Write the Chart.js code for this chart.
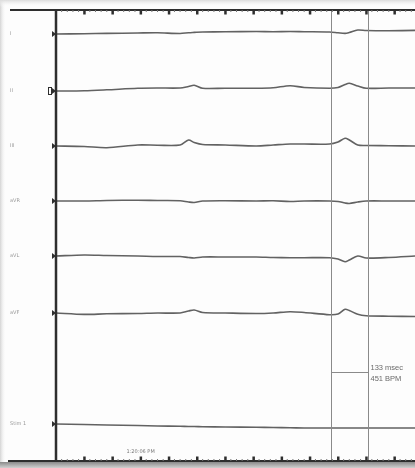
<!DOCTYPE html>
<html>
<head>
<meta charset="utf-8">
<script src="https://cdn.jsdelivr.net/npm/chart.js@4/dist/chart.umd.min.js"></script>
<style>
  html, body { margin: 0; padding: 0; background: #fff; }
  #wrap { width: 415px; height: 468px; }
</style>
</head>
<body>
<div id="wrap"><canvas id="ecg" width="415" height="468"></canvas></div>
<script>
// sample times (msec) shared by every lead
const times = [0, 100, 180, 290, 360, 440, 470, 490, 520, 600, 710, 770, 830, 880, 970, 1000, 1025, 1040, 1070, 1100, 1180, 1273];

// lead names and amplitudes (mV)
const leads = ["I", "II", "III", "aVR", "aVL", "aVF", "Stim 1"];
const leadI   = [0, .015, .03, .05, .06, .025, .065, .08, .10, .11, .125, .115, .125, .115, .10, .06, .03, .075, .20, .175, .165, .18];
const leadII  = [0, .015, .06, .135, .15, .15, .225, .285, .135, .14, .135, .16, .265, .175, .135, .175, .325, .385, .25, .135, .15, .15];
const leadIII = [0, -.025, -.085, .05, .04, .05, .30, .175, .075, .05, 0, .05, .10, .10, .10, .20, .385, .30, .05, .025, .015, 0];
const leadAVR = [0, 0, .025, .04, .025, .015, -.05, -.075, 0, .015, 0, .01, -.025, 0, 0, -.025, -.10, -.125, -.05, 0, 0, 0];
const leadAVL = [0, .05, .025, 0, -.025, -.025, -.075, -.10, -.05, -.05, -.05, -.075, -.085, -.085, -.085, -.15, -.285, -.20, 0, -.10, -.075, 0];
const leadAVF = [0, -.07, -.04, -.025, 0, 0, .10, .15, .025, 0, -.025, 0, .065, .025, -.085, -.05, .185, .125, -.065, -.135, -.16, -.175];
const stim1   = [0, -.025, -.05, -.075, -.10, -.115, -.125, -.125, -.135, -.15, -.165, -.175, -.185, -.20, -.20, -.20, -.20, -.20, -.20, -.20, -.20, -.20];
const series = [leadI, leadII, leadIII, leadAVR, leadAVL, leadAVF, stim1];

// calipers
const caliperStart = 975;
const caliperEnd = 1108;
const caliperText = ["133 msec", "451 BPM"];
const timeLabel = "1:20:06 PM";
const timeLabelAt = 300;

// layout: lane centres in trace units (1 unit = 1 mV on a 20 px/mV paper), top to bottom
const lanes = [1.2, 4.05, 6.8, 9.55, 12.3, 15.15, 20.7];
const yMax = 22.55;
const xMax = 1273;

const datasets = series.map((vals, i) => ({
  label: leads[i],
  data: times.map((t, j) => ({ x: t, y: lanes[i] - vals[j] })),
  borderColor: "#626262",
  borderWidth: 1.6,
  pointRadius: 0,
  tension: 0.3,
  fill: false
}));

const paper = {
  id: "paper",
  beforeDraw(chart) {
    const c = chart.ctx, W = chart.width, H = chart.height;
    c.save();
    c.fillStyle = "#fdfdfd";
    c.fillRect(0, 0, W, H);
    // page shadows
    let g = c.createLinearGradient(0, 0, 6, 0);
    g.addColorStop(0, "#d4d4d4"); g.addColorStop(1, "rgba(255,255,255,0)");
    c.fillStyle = g; c.fillRect(0, 0, 6, H);
    g = c.createLinearGradient(0, 0, 0, 7);
    g.addColorStop(0, "#dcdcdc"); g.addColorStop(1, "rgba(255,255,255,0)");
    c.fillStyle = g; c.fillRect(0, 0, W, 7);
    g = c.createLinearGradient(0, 462, 0, H);
    g.addColorStop(0, "#8a8a8a"); g.addColorStop(1, "#d0d0d0");
    c.fillStyle = g; c.fillRect(0, 462, W, H - 462);
    c.restore();
  },
  afterDatasetsDraw(chart) {
    const c = chart.ctx, a = chart.chartArea;
    const xs = chart.scales.x, ys = chart.scales.y;
    c.save();
    // caliper lines
    c.strokeStyle = "#8a8a8a";
    c.lineWidth = 1;
    const x1 = Math.round(xs.getPixelForValue(caliperStart)) + 0.5;
    const x2 = Math.round(xs.getPixelForValue(caliperEnd)) + 0.5;
    c.beginPath();
    c.moveTo(x1, a.top); c.lineTo(x1, a.bottom);
    c.moveTo(x2, a.top); c.lineTo(x2, a.bottom);
    const yc = Math.round(ys.getPixelForValue(18.1)) + 0.5;
    c.moveTo(x1, yc); c.lineTo(x2, yc);
    c.stroke();
    c.fillStyle = "#6a6a6a";
    c.font = "7.5px 'Liberation Sans', sans-serif";
    c.textBaseline = "middle";
    c.fillText(caliperText[0], x2 + 2, yc - 5);
    c.fillText(caliperText[1], x2 + 2, yc + 6);

    // frame
    c.strokeStyle = "#2e2e2e";
    c.lineWidth = 2;
    c.beginPath();
    c.moveTo(10, a.top); c.lineTo(a.right, a.top);
    c.moveTo(8, a.bottom); c.lineTo(a.right, a.bottom);
    c.stroke();
    c.lineWidth = 2.5;
    c.beginPath();
    c.moveTo(a.left, a.top); c.lineTo(a.left, a.bottom);
    c.stroke();

    // ticks every 20 ms, major every 100 ms
    c.fillStyle = "#2e2e2e";
    for (let t = 20; t <= xMax; t += 20) {
      const px = xs.getPixelForValue(t);
      if (t % 100 === 0) {
        c.fillRect(px - 1, a.top, 2.5, 4.5);
        c.fillRect(px - 1, a.bottom - 4.5, 2.5, 4.5);
      } else {
        c.fillStyle = "#777";
        c.fillRect(px - 0.5, a.top, 1, 2);
        c.fillRect(px - 0.5, a.bottom - 2, 1, 2);
        c.fillStyle = "#2e2e2e";
      }
    }

    // lane markers and labels
    c.font = "5px 'DejaVu Sans', sans-serif";
    leads.forEach((name, i) => {
      const py = ys.getPixelForValue(lanes[i]);
      c.fillStyle = "#2e2e2e";
      c.beginPath();
      c.moveTo(a.left - 4, py - 3); c.lineTo(a.left, py); c.lineTo(a.left - 4, py + 3);
      c.closePath(); c.fill();
      if (i === 1) {
        c.strokeStyle = "#2e2e2e"; c.lineWidth = 1;
        c.strokeRect(a.left - 7.5, py - 3.5, 3, 7);
      }
      c.fillStyle = "#999";
      c.fillText(name, 10, py);
    });

    // time stamp
    c.fillStyle = "#777";
    c.textAlign = "center";
    c.fillText(timeLabel, xs.getPixelForValue(timeLabelAt), a.bottom - 9);
    c.restore();
  }
};

new Chart(document.getElementById("ecg"), {
  type: "line",
  data: { datasets },
  options: {
    responsive: false,
    animation: false,
    layout: { padding: { left: 56, top: 10, right: 0, bottom: 7 } },
    plugins: { legend: { display: false }, tooltip: { enabled: false } },
    scales: {
      x: { type: "linear", min: 0, max: xMax, display: false },
      y: { type: "linear", min: 0, max: yMax, reverse: true, display: false }
    }
  },
  plugins: [paper]
});
</script>
</body>
</html>
